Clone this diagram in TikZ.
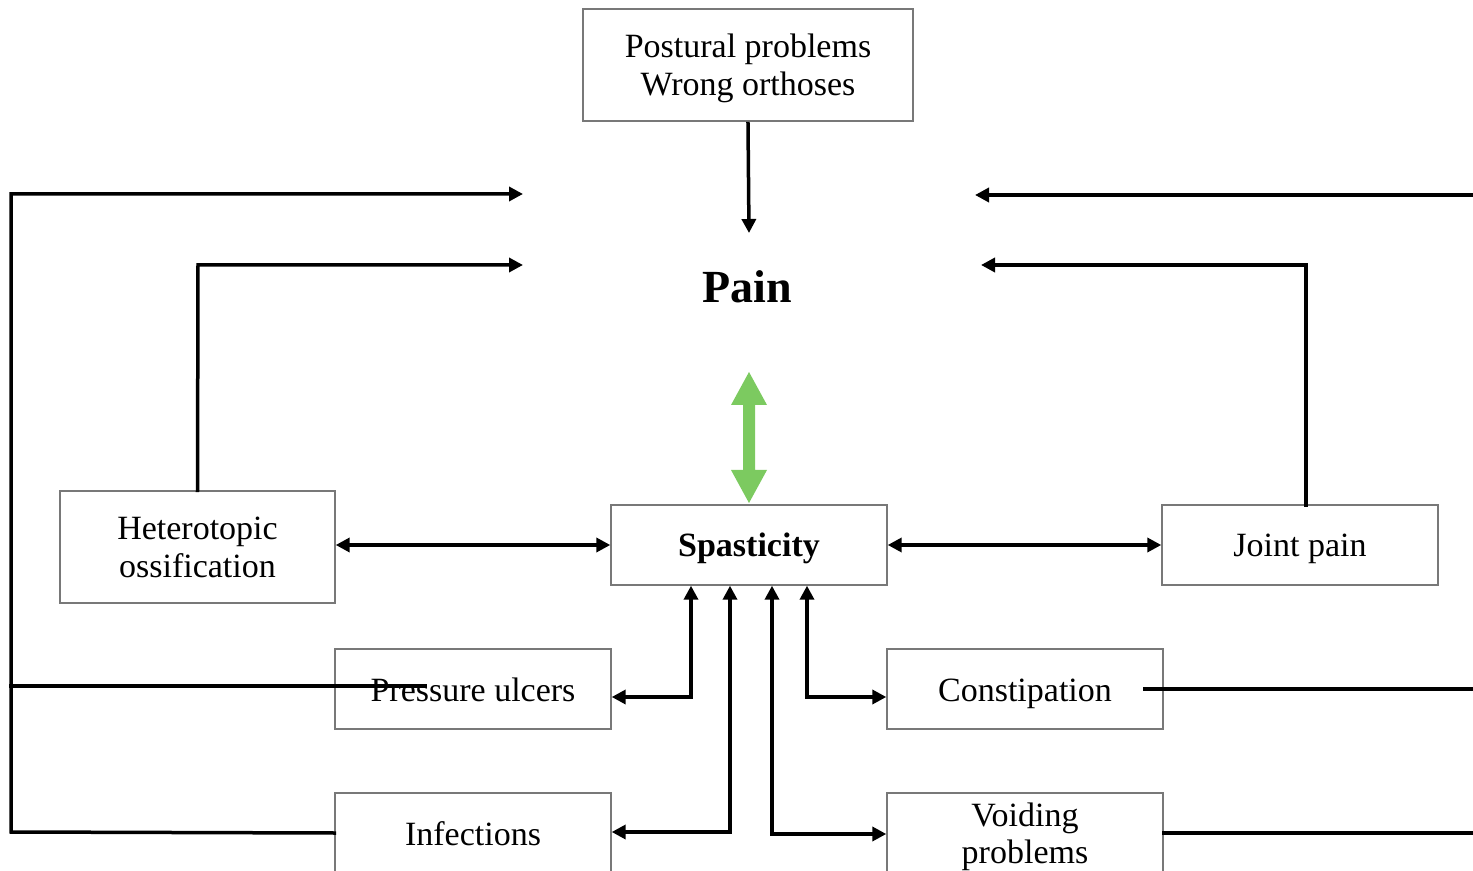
\documentclass[tikz,border=0pt]{standalone}
\usepackage{fontspec}
\setmainfont{Liberation Serif}
\usetikzlibrary{arrows.meta,calc}
\definecolor{boxgray}{RGB}{120,120,120}
\definecolor{arrgreen}{RGB}{124,202,96}
\newcommand{\mlines}[1]{\raisebox{-6.5pt}[0pt][0pt]{\begin{tabular}{@{}c@{}}#1\end{tabular}}}
\tikzset{
  box/.style={draw=boxgray, line width=0.7pt, minimum width=138pt, minimum height=40pt, align=center, inner sep=0pt,
    font=\fontsize{17}{19}\selectfont},
  onel/.style={text height=12pt, text depth=0pt},
  conn/.style={line width=1.75pt, line cap=rect},
  tip/.style={-{Triangle[length=7pt,width=7pt]}},
  tips/.style={{Triangle[length=7pt,width=7pt]}-{Triangle[length=7pt,width=7pt]}},
}
\begin{document}
\begin{tikzpicture}[x=0.5pt,y=-0.5pt]
\useasboundingbox (0,0) rectangle (1473,871);
\node[box, minimum width=165pt, minimum height=56pt] (post) at (748,65) {\mlines{Postural problems\\Wrong orthoses}};
\node[font=\fontsize{23}{26}\selectfont\bfseries] (pain) at (747,287) {Pain};
\node[box, onel, font=\fontsize{17}{19}\selectfont\bfseries] (spas) at (749,545) {Spasticity};
\node[box, minimum width=137.5pt, minimum height=56pt] (het) at (197.5,547) {\mlines{Heterotopic\\ossification}};
\node[box, onel] (joint) at (1300,545) {Joint pain};
\node[box, onel] (press) at (473,689) {Pressure ulcers};
\node[box, onel] (const) at (1025,689) {Constipation};
\node[box, onel] (inf) at (473,833) {Infections};
\node[box] (void) at (1025,833) {\mlines{Voiding\\[-0.5pt]problems}};

% coordinates
\coordinate (pt1) at (749,233);
\coordinate (la) at (523,194);
\coordinate (lb) at (523,265);
\coordinate (ra) at (975,195);
\coordinate (rb) at (981,265);
\coordinate (redge1) at (1473,195);
\coordinate (redge2) at (1473,689);
\coordinate (redge3) at (1473,833);
\coordinate (lx) at (11,686);
\coordinate (pend) at (425,686);
\coordinate (cstart) at (1145,689);
\coordinate (jtop) at (1306,505);

% green double arrow
\fill[arrgreen] (749,372) -- (767,405) -- (755,405) -- (755,470) -- (767,470) -- (749,503)
  -- (731,470) -- (743,470) -- (743,405) -- (731,405) -- cycle;

\draw[conn, tip] ([yshift=-1pt]post.south) -- (pt1);
\draw[conn, tip] (inf.west) -- (11,832) -- (11,194) -- (la);
\draw[conn] (lx) -- (pend);
\draw[conn, tip] (het.north) -- (198,265) -- (lb);
\draw[conn, tip] (redge1) -- (ra);
\draw[conn, tip] (jtop) -- (1306,265) -- (rb);
\draw[conn] (cstart) -- (redge2);
\draw[conn] (void.east |- redge3) -- (redge3);

\draw[conn, tips] (spas.west -| het.east) -- (spas.west);
\draw[conn, tips] (spas.east) -- (joint.west);

\draw[conn, tips] (press.east |- 0,697) -| (spas.south -| 691,0);
\draw[conn, tips] (inf.east |- 0,832) -| (spas.south -| 730,0);
\draw[conn, tips] (void.west |- 0,834) -| (spas.south -| 772,0);
\draw[conn, tips] (const.west |- 0,697) -| (spas.south -| 807,0);
\end{tikzpicture}
\end{document}
